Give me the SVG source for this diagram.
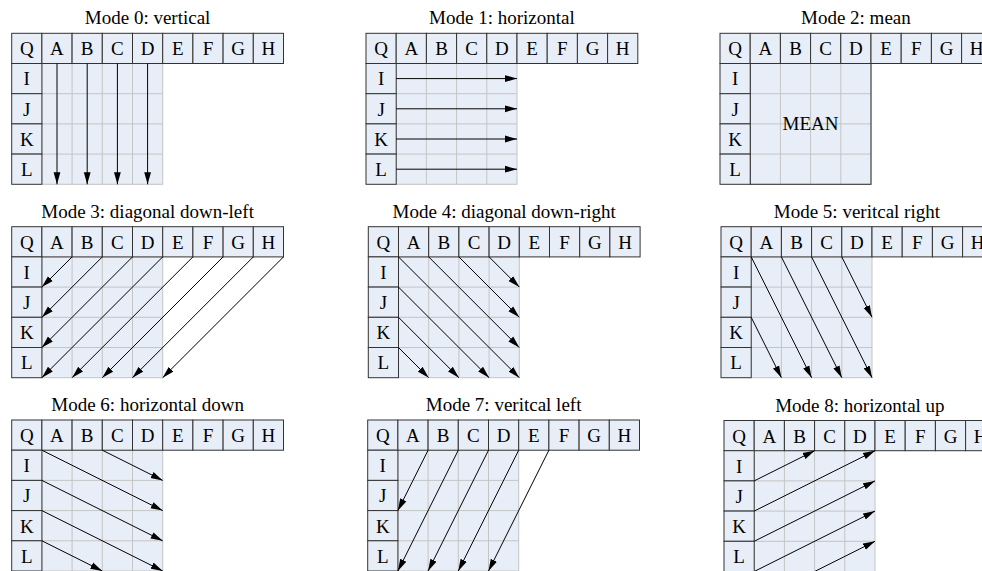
<svg xmlns="http://www.w3.org/2000/svg" width="982" height="571" viewBox="0 0 982 571">
<style>
text{font-family:"Liberation Serif","Times New Roman",serif;font-size:19px;fill:#000;text-anchor:middle}
.c{fill:#E8EEF8;stroke:#333;stroke-width:1}
.blk{fill:#E8EEF8;stroke:#C4C4C4;stroke-width:1}
.blkd{fill:#E8EEF8;stroke:#333;stroke-width:1}
.gl{fill:none;stroke:#C4C4C4;stroke-width:1}
.a{fill:none;stroke:#000;stroke-width:1;marker-end:url(#ah)}
</style>
<defs>
<marker id="ah" markerUnits="userSpaceOnUse" markerWidth="12" markerHeight="8" refX="12" refY="4" orient="auto">
<path d="M0,0.6 L12,4 L0,7.4 z" fill="#000"/>
</marker>
<path id="gridlines" d="M60.4,30.2V151M90.6,30.2V151M120.8,30.2V151M30.2,60.4H151M30.2,90.6H151M30.2,120.8H151"/>
</defs>
<rect width="982" height="571" fill="#fff"/>

<g id="mode0" transform="translate(11.7,33.3)">
<text x="135.9" y="-9">Mode 0: vertical</text>
<rect class="blk" x="30.2" y="30.2" width="120.8" height="120.8"/>
<path class="gl" d="M60.4,30.2V151M90.6,30.2V151M120.8,30.2V151M30.2,60.4H151M30.2,90.6H151M30.2,120.8H151"/>
<rect class="c" x="0" y="0" width="30.2" height="30.2"/><rect class="c" x="30.2" y="0" width="30.2" height="30.2"/><rect class="c" x="60.4" y="0" width="30.2" height="30.2"/><rect class="c" x="90.6" y="0" width="30.2" height="30.2"/><rect class="c" x="120.8" y="0" width="30.2" height="30.2"/><rect class="c" x="151" y="0" width="30.2" height="30.2"/><rect class="c" x="181.2" y="0" width="30.2" height="30.2"/><rect class="c" x="211.4" y="0" width="30.2" height="30.2"/><rect class="c" x="241.6" y="0" width="30.2" height="30.2"/>
<rect class="c" x="0" y="30.2" width="30.2" height="30.2"/><rect class="c" x="0" y="60.4" width="30.2" height="30.2"/><rect class="c" x="0" y="90.6" width="30.2" height="30.2"/><rect class="c" x="0" y="120.8" width="30.2" height="30.2"/>
<text x="15.1" y="22">Q</text><text x="45.3" y="22">A</text><text x="75.5" y="22">B</text><text x="105.7" y="22">C</text><text x="135.9" y="22">D</text><text x="166.1" y="22">E</text><text x="196.3" y="22">F</text><text x="226.5" y="22">G</text><text x="256.7" y="22">H</text>
<text x="15.1" y="52.2">I</text><text x="15.1" y="82.4">J</text><text x="15.1" y="112.6">K</text><text x="15.1" y="142.8">L</text>
</g>

<g id="mode1" transform="translate(366,33.3)">
<text x="135.9" y="-9">Mode 1: horizontal</text>
<rect class="blk" x="30.2" y="30.2" width="120.8" height="120.8"/>
<path class="gl" d="M60.4,30.2V151M90.6,30.2V151M120.8,30.2V151M30.2,60.4H151M30.2,90.6H151M30.2,120.8H151"/>
<rect class="c" x="0" y="0" width="30.2" height="30.2"/><rect class="c" x="30.2" y="0" width="30.2" height="30.2"/><rect class="c" x="60.4" y="0" width="30.2" height="30.2"/><rect class="c" x="90.6" y="0" width="30.2" height="30.2"/><rect class="c" x="120.8" y="0" width="30.2" height="30.2"/><rect class="c" x="151" y="0" width="30.2" height="30.2"/><rect class="c" x="181.2" y="0" width="30.2" height="30.2"/><rect class="c" x="211.4" y="0" width="30.2" height="30.2"/><rect class="c" x="241.6" y="0" width="30.2" height="30.2"/>
<rect class="c" x="0" y="30.2" width="30.2" height="30.2"/><rect class="c" x="0" y="60.4" width="30.2" height="30.2"/><rect class="c" x="0" y="90.6" width="30.2" height="30.2"/><rect class="c" x="0" y="120.8" width="30.2" height="30.2"/>
<text x="15.1" y="22">Q</text><text x="45.3" y="22">A</text><text x="75.5" y="22">B</text><text x="105.7" y="22">C</text><text x="135.9" y="22">D</text><text x="166.1" y="22">E</text><text x="196.3" y="22">F</text><text x="226.5" y="22">G</text><text x="256.7" y="22">H</text>
<text x="15.1" y="52.2">I</text><text x="15.1" y="82.4">J</text><text x="15.1" y="112.6">K</text><text x="15.1" y="142.8">L</text>
</g>

<g id="mode2" transform="translate(720,33.3)">
<text x="135.9" y="-9">Mode 2: mean</text>
<rect class="blk" x="30.2" y="30.2" width="120.8" height="120.8"/>
<path class="gl" d="M60.4,30.2V151M90.6,30.2V151M120.8,30.2V151M30.2,60.4H151M30.2,90.6H151M30.2,120.8H151"/>
<rect x="30.2" y="30.2" width="120.8" height="120.8" fill="none" stroke="#333"/>
<rect class="c" x="0" y="0" width="30.2" height="30.2"/><rect class="c" x="30.2" y="0" width="30.2" height="30.2"/><rect class="c" x="60.4" y="0" width="30.2" height="30.2"/><rect class="c" x="90.6" y="0" width="30.2" height="30.2"/><rect class="c" x="120.8" y="0" width="30.2" height="30.2"/><rect class="c" x="151" y="0" width="30.2" height="30.2"/><rect class="c" x="181.2" y="0" width="30.2" height="30.2"/><rect class="c" x="211.4" y="0" width="30.2" height="30.2"/><rect class="c" x="241.6" y="0" width="30.2" height="30.2"/>
<rect class="c" x="0" y="30.2" width="30.2" height="30.2"/><rect class="c" x="0" y="60.4" width="30.2" height="30.2"/><rect class="c" x="0" y="90.6" width="30.2" height="30.2"/><rect class="c" x="0" y="120.8" width="30.2" height="30.2"/>
<text x="15.1" y="22">Q</text><text x="45.3" y="22">A</text><text x="75.5" y="22">B</text><text x="105.7" y="22">C</text><text x="135.9" y="22">D</text><text x="166.1" y="22">E</text><text x="196.3" y="22">F</text><text x="226.5" y="22">G</text><text x="256.7" y="22">H</text>
<text x="15.1" y="52.2">I</text><text x="15.1" y="82.4">J</text><text x="15.1" y="112.6">K</text><text x="15.1" y="142.8">L</text>
<text x="90.6" y="97">MEAN</text>
</g>

<g id="mode3" transform="translate(11.7,226.7)">
<text x="135.9" y="-9">Mode 3: diagonal down-left</text>
<rect class="blk" x="30.2" y="30.2" width="120.8" height="120.8"/>
<path class="gl" d="M60.4,30.2V151M90.6,30.2V151M120.8,30.2V151M30.2,60.4H151M30.2,90.6H151M30.2,120.8H151"/>
<rect class="c" x="0" y="0" width="30.2" height="30.2"/><rect class="c" x="30.2" y="0" width="30.2" height="30.2"/><rect class="c" x="60.4" y="0" width="30.2" height="30.2"/><rect class="c" x="90.6" y="0" width="30.2" height="30.2"/><rect class="c" x="120.8" y="0" width="30.2" height="30.2"/><rect class="c" x="151" y="0" width="30.2" height="30.2"/><rect class="c" x="181.2" y="0" width="30.2" height="30.2"/><rect class="c" x="211.4" y="0" width="30.2" height="30.2"/><rect class="c" x="241.6" y="0" width="30.2" height="30.2"/>
<rect class="c" x="0" y="30.2" width="30.2" height="30.2"/><rect class="c" x="0" y="60.4" width="30.2" height="30.2"/><rect class="c" x="0" y="90.6" width="30.2" height="30.2"/><rect class="c" x="0" y="120.8" width="30.2" height="30.2"/>
<text x="15.1" y="22">Q</text><text x="45.3" y="22">A</text><text x="75.5" y="22">B</text><text x="105.7" y="22">C</text><text x="135.9" y="22">D</text><text x="166.1" y="22">E</text><text x="196.3" y="22">F</text><text x="226.5" y="22">G</text><text x="256.7" y="22">H</text>
<text x="15.1" y="52.2">I</text><text x="15.1" y="82.4">J</text><text x="15.1" y="112.6">K</text><text x="15.1" y="142.8">L</text>
</g>

<g id="mode4" transform="translate(368.3,226.7)">
<text x="135.9" y="-9">Mode 4: diagonal down-right</text>
<rect class="blk" x="30.2" y="30.2" width="120.8" height="120.8"/>
<path class="gl" d="M60.4,30.2V151M90.6,30.2V151M120.8,30.2V151M30.2,60.4H151M30.2,90.6H151M30.2,120.8H151"/>
<rect class="c" x="0" y="0" width="30.2" height="30.2"/><rect class="c" x="30.2" y="0" width="30.2" height="30.2"/><rect class="c" x="60.4" y="0" width="30.2" height="30.2"/><rect class="c" x="90.6" y="0" width="30.2" height="30.2"/><rect class="c" x="120.8" y="0" width="30.2" height="30.2"/><rect class="c" x="151" y="0" width="30.2" height="30.2"/><rect class="c" x="181.2" y="0" width="30.2" height="30.2"/><rect class="c" x="211.4" y="0" width="30.2" height="30.2"/><rect class="c" x="241.6" y="0" width="30.2" height="30.2"/>
<rect class="c" x="0" y="30.2" width="30.2" height="30.2"/><rect class="c" x="0" y="60.4" width="30.2" height="30.2"/><rect class="c" x="0" y="90.6" width="30.2" height="30.2"/><rect class="c" x="0" y="120.8" width="30.2" height="30.2"/>
<text x="15.1" y="22">Q</text><text x="45.3" y="22">A</text><text x="75.5" y="22">B</text><text x="105.7" y="22">C</text><text x="135.9" y="22">D</text><text x="166.1" y="22">E</text><text x="196.3" y="22">F</text><text x="226.5" y="22">G</text><text x="256.7" y="22">H</text>
<text x="15.1" y="52.2">I</text><text x="15.1" y="82.4">J</text><text x="15.1" y="112.6">K</text><text x="15.1" y="142.8">L</text>
</g>

<g id="mode5" transform="translate(721,226.7)">
<text x="135.9" y="-9">Mode 5: veritcal right</text>
<rect class="blk" x="30.2" y="30.2" width="120.8" height="120.8"/>
<path class="gl" d="M60.4,30.2V151M90.6,30.2V151M120.8,30.2V151M30.2,60.4H151M30.2,90.6H151M30.2,120.8H151"/>
<rect class="c" x="0" y="0" width="30.2" height="30.2"/><rect class="c" x="30.2" y="0" width="30.2" height="30.2"/><rect class="c" x="60.4" y="0" width="30.2" height="30.2"/><rect class="c" x="90.6" y="0" width="30.2" height="30.2"/><rect class="c" x="120.8" y="0" width="30.2" height="30.2"/><rect class="c" x="151" y="0" width="30.2" height="30.2"/><rect class="c" x="181.2" y="0" width="30.2" height="30.2"/><rect class="c" x="211.4" y="0" width="30.2" height="30.2"/><rect class="c" x="241.6" y="0" width="30.2" height="30.2"/>
<rect class="c" x="0" y="30.2" width="30.2" height="30.2"/><rect class="c" x="0" y="60.4" width="30.2" height="30.2"/><rect class="c" x="0" y="90.6" width="30.2" height="30.2"/><rect class="c" x="0" y="120.8" width="30.2" height="30.2"/>
<text x="15.1" y="22">Q</text><text x="45.3" y="22">A</text><text x="75.5" y="22">B</text><text x="105.7" y="22">C</text><text x="135.9" y="22">D</text><text x="166.1" y="22">E</text><text x="196.3" y="22">F</text><text x="226.5" y="22">G</text><text x="256.7" y="22">H</text>
<text x="15.1" y="52.2">I</text><text x="15.1" y="82.4">J</text><text x="15.1" y="112.6">K</text><text x="15.1" y="142.8">L</text>
</g>

<g id="mode6" transform="translate(11.7,420)">
<text x="135.9" y="-9">Mode 6: horizontal down</text>
<rect class="blk" x="30.2" y="30.2" width="120.8" height="120.8"/>
<path class="gl" d="M60.4,30.2V151M90.6,30.2V151M120.8,30.2V151M30.2,60.4H151M30.2,90.6H151M30.2,120.8H151"/>
<rect class="c" x="0" y="0" width="30.2" height="30.2"/><rect class="c" x="30.2" y="0" width="30.2" height="30.2"/><rect class="c" x="60.4" y="0" width="30.2" height="30.2"/><rect class="c" x="90.6" y="0" width="30.2" height="30.2"/><rect class="c" x="120.8" y="0" width="30.2" height="30.2"/><rect class="c" x="151" y="0" width="30.2" height="30.2"/><rect class="c" x="181.2" y="0" width="30.2" height="30.2"/><rect class="c" x="211.4" y="0" width="30.2" height="30.2"/><rect class="c" x="241.6" y="0" width="30.2" height="30.2"/>
<rect class="c" x="0" y="30.2" width="30.2" height="30.2"/><rect class="c" x="0" y="60.4" width="30.2" height="30.2"/><rect class="c" x="0" y="90.6" width="30.2" height="30.2"/><rect class="c" x="0" y="120.8" width="30.2" height="30.2"/>
<text x="15.1" y="22">Q</text><text x="45.3" y="22">A</text><text x="75.5" y="22">B</text><text x="105.7" y="22">C</text><text x="135.9" y="22">D</text><text x="166.1" y="22">E</text><text x="196.3" y="22">F</text><text x="226.5" y="22">G</text><text x="256.7" y="22">H</text>
<text x="15.1" y="52.2">I</text><text x="15.1" y="82.4">J</text><text x="15.1" y="112.6">K</text><text x="15.1" y="142.8">L</text>
</g>

<g id="mode7" transform="translate(367.7,420)">
<text x="135.9" y="-9">Mode 7: veritcal left</text>
<rect class="blk" x="30.2" y="30.2" width="120.8" height="120.8"/>
<path class="gl" d="M60.4,30.2V151M90.6,30.2V151M120.8,30.2V151M30.2,60.4H151M30.2,90.6H151M30.2,120.8H151"/>
<rect class="c" x="0" y="0" width="30.2" height="30.2"/><rect class="c" x="30.2" y="0" width="30.2" height="30.2"/><rect class="c" x="60.4" y="0" width="30.2" height="30.2"/><rect class="c" x="90.6" y="0" width="30.2" height="30.2"/><rect class="c" x="120.8" y="0" width="30.2" height="30.2"/><rect class="c" x="151" y="0" width="30.2" height="30.2"/><rect class="c" x="181.2" y="0" width="30.2" height="30.2"/><rect class="c" x="211.4" y="0" width="30.2" height="30.2"/><rect class="c" x="241.6" y="0" width="30.2" height="30.2"/>
<rect class="c" x="0" y="30.2" width="30.2" height="30.2"/><rect class="c" x="0" y="60.4" width="30.2" height="30.2"/><rect class="c" x="0" y="90.6" width="30.2" height="30.2"/><rect class="c" x="0" y="120.8" width="30.2" height="30.2"/>
<text x="15.1" y="22">Q</text><text x="45.3" y="22">A</text><text x="75.5" y="22">B</text><text x="105.7" y="22">C</text><text x="135.9" y="22">D</text><text x="166.1" y="22">E</text><text x="196.3" y="22">F</text><text x="226.5" y="22">G</text><text x="256.7" y="22">H</text>
<text x="15.1" y="52.2">I</text><text x="15.1" y="82.4">J</text><text x="15.1" y="112.6">K</text><text x="15.1" y="142.8">L</text>
</g>

<g id="mode8" transform="translate(724,420.5)">
<text x="135.9" y="-9">Mode 8: horizontal up</text>
<rect class="blk" x="30.2" y="30.2" width="120.8" height="120.8"/>
<path class="gl" d="M60.4,30.2V151M90.6,30.2V151M120.8,30.2V151M30.2,60.4H151M30.2,90.6H151M30.2,120.8H151"/>
<rect class="c" x="0" y="0" width="30.2" height="30.2"/><rect class="c" x="30.2" y="0" width="30.2" height="30.2"/><rect class="c" x="60.4" y="0" width="30.2" height="30.2"/><rect class="c" x="90.6" y="0" width="30.2" height="30.2"/><rect class="c" x="120.8" y="0" width="30.2" height="30.2"/><rect class="c" x="151" y="0" width="30.2" height="30.2"/><rect class="c" x="181.2" y="0" width="30.2" height="30.2"/><rect class="c" x="211.4" y="0" width="30.2" height="30.2"/><rect class="c" x="241.6" y="0" width="30.2" height="30.2"/>
<rect class="c" x="0" y="30.2" width="30.2" height="30.2"/><rect class="c" x="0" y="60.4" width="30.2" height="30.2"/><rect class="c" x="0" y="90.6" width="30.2" height="30.2"/><rect class="c" x="0" y="120.8" width="30.2" height="30.2"/>
<text x="15.1" y="22">Q</text><text x="45.3" y="22">A</text><text x="75.5" y="22">B</text><text x="105.7" y="22">C</text><text x="135.9" y="22">D</text><text x="166.1" y="22">E</text><text x="196.3" y="22">F</text><text x="226.5" y="22">G</text><text x="256.7" y="22">H</text>
<text x="15.1" y="52.2">I</text><text x="15.1" y="82.4">J</text><text x="15.1" y="112.6">K</text><text x="15.1" y="142.8">L</text>
</g>

<g id="connectors">
<g id="arrows-mode0" transform="translate(11.7,33.3)">
<line class="a" x1="45.3" y1="30.2" x2="45.3" y2="151"/>
<line class="a" x1="75.5" y1="30.2" x2="75.5" y2="151"/>
<line class="a" x1="105.7" y1="30.2" x2="105.7" y2="151"/>
<line class="a" x1="135.9" y1="30.2" x2="135.9" y2="151"/>
</g>
<g id="arrows-mode1" transform="translate(366,33.3)">
<line class="a" x1="30.2" y1="45.3" x2="151" y2="45.3"/>
<line class="a" x1="30.2" y1="75.5" x2="151" y2="75.5"/>
<line class="a" x1="30.2" y1="105.7" x2="151" y2="105.7"/>
<line class="a" x1="30.2" y1="135.9" x2="151" y2="135.9"/>
</g>
<g id="arrows-mode3" transform="translate(11.7,226.7)">
<line class="a" x1="60.4" y1="30.2" x2="30.2" y2="60.4"/>
<line class="a" x1="90.6" y1="30.2" x2="30.2" y2="90.6"/>
<line class="a" x1="120.8" y1="30.2" x2="30.2" y2="120.8"/>
<line class="a" x1="151" y1="30.2" x2="30.2" y2="151"/>
<line class="a" x1="181.2" y1="30.2" x2="60.4" y2="151"/>
<line class="a" x1="211.4" y1="30.2" x2="90.6" y2="151"/>
<line class="a" x1="241.6" y1="30.2" x2="120.8" y2="151"/>
<line class="a" x1="271.8" y1="30.2" x2="151" y2="151"/>
</g>
<g id="arrows-mode4" transform="translate(368.3,226.7)">
<line class="a" x1="30.2" y1="30.2" x2="151" y2="151"/>
<line class="a" x1="60.4" y1="30.2" x2="151" y2="120.8"/>
<line class="a" x1="90.6" y1="30.2" x2="151" y2="90.6"/>
<line class="a" x1="120.8" y1="30.2" x2="151" y2="60.4"/>
<line class="a" x1="30.2" y1="60.4" x2="120.8" y2="151"/>
<line class="a" x1="30.2" y1="90.6" x2="90.6" y2="151"/>
<line class="a" x1="30.2" y1="120.8" x2="60.4" y2="151"/>
</g>
<g id="arrows-mode5" transform="translate(721,226.7)">
<line class="a" x1="30.2" y1="30.2" x2="90.6" y2="151"/>
<line class="a" x1="60.4" y1="30.2" x2="120.8" y2="151"/>
<line class="a" x1="90.6" y1="30.2" x2="151" y2="151"/>
<line class="a" x1="120.8" y1="30.2" x2="151" y2="90.6"/>
<line class="a" x1="30.2" y1="90.6" x2="60.4" y2="151"/>
</g>
<g id="arrows-mode6" transform="translate(11.7,420)">
<line class="a" x1="30.2" y1="30.2" x2="151" y2="90.6"/>
<line class="a" x1="90.6" y1="30.2" x2="151" y2="60.4"/>
<line class="a" x1="30.2" y1="60.4" x2="151" y2="120.8"/>
<line class="a" x1="30.2" y1="90.6" x2="151" y2="151"/>
<line class="a" x1="30.2" y1="120.8" x2="90.6" y2="151"/>
</g>
<g id="arrows-mode7" transform="translate(367.7,420)">
<line class="a" x1="60.4" y1="30.2" x2="30.2" y2="90.6"/>
<line class="a" x1="90.6" y1="30.2" x2="30.2" y2="151"/>
<line class="a" x1="120.8" y1="30.2" x2="60.4" y2="151"/>
<line class="a" x1="151" y1="30.2" x2="90.6" y2="151"/>
<line class="a" x1="181.2" y1="30.2" x2="120.8" y2="151"/>
</g>
<g id="arrows-mode8" transform="translate(724,420.5)">
<line class="a" x1="30.2" y1="60.4" x2="90.6" y2="30.2"/>
<line class="a" x1="30.2" y1="90.6" x2="151" y2="30.2"/>
<line class="a" x1="30.2" y1="120.8" x2="151" y2="60.4"/>
<line class="a" x1="30.2" y1="151" x2="151" y2="90.6"/>
<line class="a" x1="90.6" y1="151" x2="151" y2="120.8"/>
</g>
</g>
</svg>
